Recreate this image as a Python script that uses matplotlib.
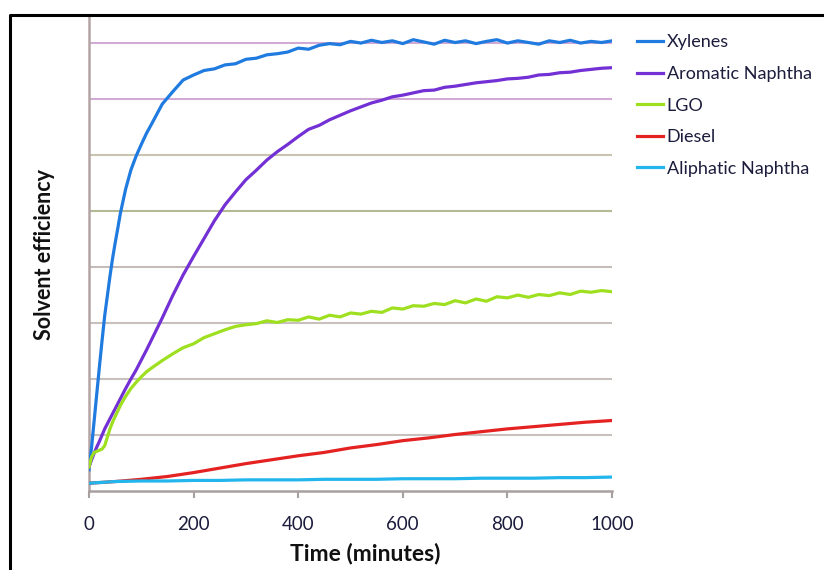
import matplotlib.pyplot as plt
from matplotlib.lines import Line2D

# time axis (minutes), denser at the start where curves rise fast
time = [0, 5, 10, 15, 20, 25, 30, 35, 40, 45, 50, 55, 60, 70, 80, 90, 100, 110,
        120, 140, 160, 180, 200, 220, 240, 260, 280, 300, 320, 340, 360, 380,
        400, 420, 440, 460, 480, 500, 520, 540, 560, 580, 600, 620, 640, 660,
        680, 700, 720, 740, 760, 780, 800, 820, 840, 860, 880, 900, 920, 940,
        960, 980, 1000]

xylenes = [0.37, 0.78, 1.26, 1.74, 2.22, 2.68, 3.12, 3.47, 3.82, 4.14, 4.42, 4.68, 4.95,
           5.38, 5.72, 5.97, 6.18, 6.38,
           6.55, 6.9, 7.12, 7.33, 7.42, 7.5, 7.53, 7.6, 7.62, 7.7, 7.72, 7.78, 7.8, 7.83,
           7.9, 7.88, 7.95, 7.98, 7.96, 8.02, 7.99, 8.04, 8.0, 8.03, 7.98, 8.05, 8.01, 7.97,
           8.04, 8.0, 8.03, 7.98, 8.02, 8.05, 7.99, 8.03, 8.0, 7.97, 8.03, 8.0, 8.04, 7.99,
           8.02, 8.0, 8.03]

aromatic = [0.42, 0.55, 0.67, 0.78, 0.88, 0.99, 1.1, 1.19, 1.28, 1.37, 1.46, 1.55, 1.64,
            1.82, 1.99, 2.15, 2.33, 2.51,
            2.7, 3.08, 3.48, 3.85, 4.18, 4.5, 4.82, 5.1, 5.33, 5.55, 5.72, 5.9, 6.05, 6.18,
            6.32, 6.45, 6.52, 6.62, 6.7, 6.78, 6.85, 6.92, 6.97, 7.03, 7.06, 7.1, 7.14, 7.15,
            7.2, 7.22, 7.25, 7.28, 7.3, 7.32, 7.35, 7.36, 7.38, 7.42, 7.43, 7.46, 7.47, 7.5,
            7.52, 7.54, 7.55]

lgo = [0.42, 0.6, 0.68, 0.7, 0.72, 0.74, 0.8, 0.95, 1.1, 1.22, 1.32, 1.42, 1.52,
       1.68, 1.82, 1.93, 2.03, 2.12,
       2.19, 2.32, 2.44, 2.55, 2.62, 2.73, 2.8, 2.87, 2.93, 2.96, 2.98, 3.03, 3.0, 3.05,
       3.04, 3.1, 3.06, 3.13, 3.1, 3.17, 3.15, 3.2, 3.18, 3.26, 3.24, 3.3, 3.29, 3.34,
       3.32, 3.39, 3.35, 3.42, 3.38, 3.46, 3.44, 3.49, 3.45, 3.5, 3.48, 3.53, 3.5, 3.56,
       3.54, 3.57, 3.55]

# the two slow curves are smooth, coarser sampling is enough
time_slow = [0, 50, 100, 150, 200, 250, 300, 350, 400, 450, 500,
             550, 600, 650, 700, 750, 800, 850, 900, 950, 1000]
diesel = [0.13, 0.16, 0.2, 0.25, 0.32, 0.4, 0.48, 0.55, 0.62, 0.68, 0.76,
          0.82, 0.89, 0.94, 1.0, 1.05, 1.1, 1.14, 1.18, 1.22, 1.25]
aliphatic = [0.13, 0.16, 0.17, 0.17, 0.18, 0.18, 0.19, 0.19, 0.19, 0.2, 0.2,
             0.2, 0.21, 0.21, 0.21, 0.22, 0.22, 0.22, 0.23, 0.23, 0.24]

xticks = [0, 200, 400, 600, 800, 1000]
grid_levels = [1, 2, 3, 4, 5, 6, 7, 8]
grid_colors = ['#c8c0bc', '#c8c0bc', '#c8c0bc', '#c4bcb8', '#b4ba94', '#c8c4b0', '#d2aad6', '#d2aad6']

txt = '#1c1c3c'
plt.rcParams['font.family'] = ['Lato', 'DejaVu Sans']

fig = plt.figure(figsize=(8.24, 5.70), dpi=100)
ax = fig.add_axes([89/824, 1 - 490.5/570, (612 - 89)/824, (490.5 - 16)/570])

for lv, c in zip(grid_levels, grid_colors):
    ax.axhline(lv, color=c, lw=1.5, zorder=1)

ax.plot(time, xylenes, color='#1f7be0', lw=2.3, label='Xylenes', zorder=3)
ax.plot(time, aromatic, color='#7330d4', lw=2.3, label='Aromatic Naphtha', zorder=3)
ax.plot(time, lgo, color='#9ee020', lw=2.3, label='LGO', zorder=3)
ax.plot(time_slow, diesel, color='#e52222', lw=2.3, label='Diesel', zorder=3)
ax.plot(time_slow, aliphatic, color='#22b6ec', lw=2.3, label='Aliphatic Naphtha', zorder=3)

ax.set_xlim(0, 1000)
ax.set_ylim(0, (490.5 - 16)/56)
ax.set_xticks(xticks)
ax.set_yticks([])
ax.tick_params(axis='x', length=5, width=1.5, color='#a8a0a0', pad=13,
               labelsize=13.5, labelcolor=txt)
for s in ['top', 'right']:
    ax.spines[s].set_visible(False)
ax.spines['left'].set_color('#b4a4a4')
ax.spines['left'].set_linewidth(1.8)
ax.spines['bottom'].set_color('#a8a0a0')
ax.spines['bottom'].set_linewidth(1.8)

fig.text(365/824, 1 - 553/570, 'Time (minutes)', ha='center', va='center',
         fontsize=16.5, fontweight='bold', color='#111111')
fig.text(45/824, 1 - 254/570, 'Solvent efficiency', ha='center', va='center',
         rotation=90, fontsize=15.5, fontweight='bold', color='#111111')

fig.legend(loc='upper left', bbox_to_anchor=(637/824, 1 - 34.5/570), frameon=False,
           fontsize=13, handlelength=1.45, handletextpad=0.2, labelspacing=0.86,
           borderpad=0, borderaxespad=0, labelcolor=txt)

# black frame around the picture (open to right and bottom)
fig.add_artist(Line2D([10/824, 10/824, 1], [0, 1 - 15/570, 1 - 15/570],
                      transform=fig.transFigure, color='black', lw=2.2))

fig.savefig('out.png', dpi=100)
